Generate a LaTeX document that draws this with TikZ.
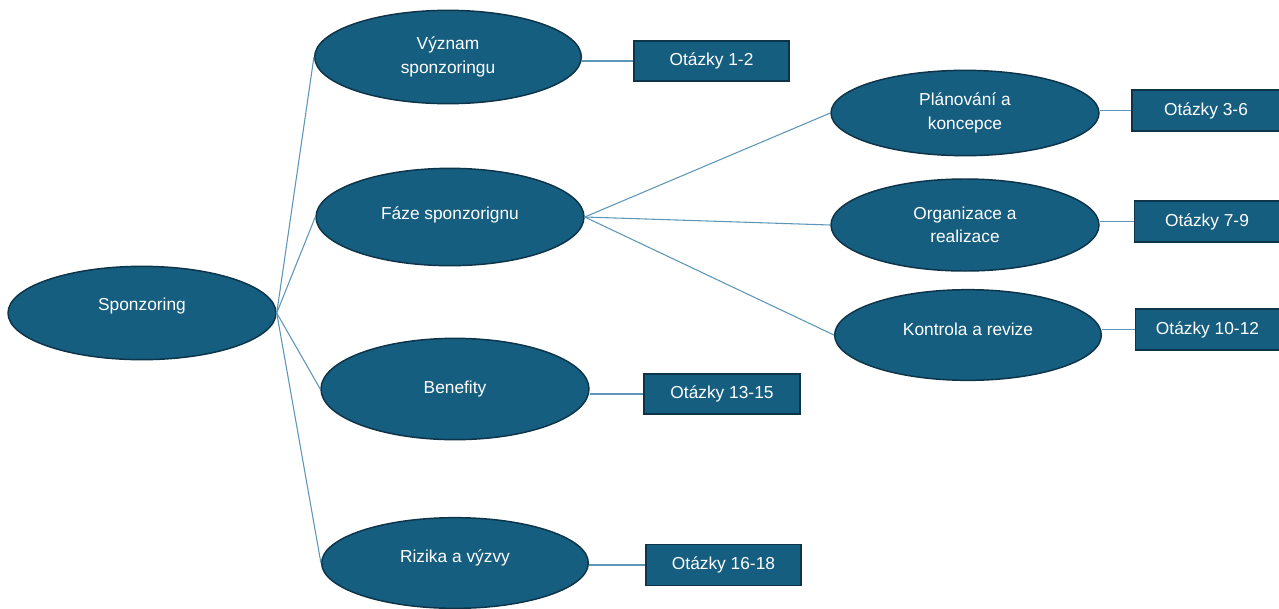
\documentclass[tikz,border=0pt]{standalone}
\usepackage{fontspec}
\setmainfont{Liberation Sans}
\usetikzlibrary{shapes.geometric}
\definecolor{topicfill}{HTML}{165E80}
\definecolor{topicedge}{HTML}{0D3448}
\definecolor{linkblue}{HTML}{5E96B8}
\newcommand{\lift}[2][4pt]{\raisebox{#1}[\height][\depth]{#2}}
\tikzset{
  topic/.style={ellipse, draw=topicedge, line width=1.1pt, fill=topicfill,
    text=white, font=\fontsize{13}{17.5}\selectfont, align=center, inner sep=0pt},
  qbox/.style={rectangle, draw=topicedge, line width=1.1pt, fill=topicfill,
    text=white, font=\fontsize{13}{15}\selectfont, inner sep=0pt},
  link/.style={draw=linkblue, line width=0.8pt}
}

\begin{document}
\begin{tikzpicture}[x=0.75pt, y=-0.75pt]
            \useasboundingbox (0,0) rectangle (1279,608);

            \node[topic, minimum width=201pt, minimum height=70pt] (S) at (142, 313) {\lift[5pt]{Sponzoring}};

            \node[topic, minimum width=200pt, minimum height=70pt] (V) at (448, 57) {Význam\\sponzoringu};
            \node[topic, minimum width=201pt, minimum height=73pt] (F) at (450, 217) {\lift[1.5pt]{Fáze sponzorignu}};
            \node[topic, minimum width=201pt, minimum height=76pt] (B) at (455, 389) {Benefity};
            \node[topic, minimum width=200pt, minimum height=68pt] (R) at (455, 563) {\lift{Rizika a výzvy}};

            \node[topic, minimum width=201pt, minimum height=64pt] (P) at (965, 113) {Plánování a\\koncepce};
            \node[topic, minimum width=201pt, minimum height=69pt] (O) at (965, 225) {Organizace a\\realizace};
            \node[topic, minimum width=200pt, minimum height=68pt] (K) at (968, 335) {\lift[4.5pt]{Kontrola a revize}};

            \node[qbox, minimum width=116pt, minimum height=30pt] (Q1) at (711.5, 61) {Otázky 1-2};
            \node[qbox, minimum width=111pt, minimum height=31pt] (Q2) at (1206, 110.5) {Otázky 3-6};
            \node[qbox, minimum width=109pt, minimum height=31pt] (Q3) at (1207, 221.5) {Otázky 7-9};
            \node[qbox, minimum width=108pt, minimum height=31pt] (Q4) at (1207.5, 329.5) {Otázky 10-12};
            \node[qbox, minimum width=117pt, minimum height=30pt] (Q5) at (722, 394) {Otázky 13-15};
            \node[qbox, minimum width=116pt, minimum height=31pt] (Q6) at (723.5, 565) {Otázky 16-18};

            % tree links
            \draw[link] (S.east) -- (V.west);
            \draw[link] (S.east) -- (F.west);
            \draw[link] (S.east) -- (B.west);
            \draw[link] (S.east) -- (R.west);
            \draw[link] (F.east) -- (P.west);
            \draw[link] (F.east) -- (O.west);
            \draw[link] (F.east) -- (K.west);

            % question boxes
            \draw[link] (V.east |- Q1.west) -- (Q1.west);
            \draw[link] (P.east |- Q2.west) -- (Q2.west);
            \draw[link] (O.east |- Q3.west) -- (Q3.west);
            \draw[link] (K.east |- Q4.west) -- (Q4.west);
            \draw[link] (B.east |- Q5.west) -- (Q5.west);
            \draw[link] (R.east |- Q6.west) -- (Q6.west);
        \end{tikzpicture}
\end{document}
